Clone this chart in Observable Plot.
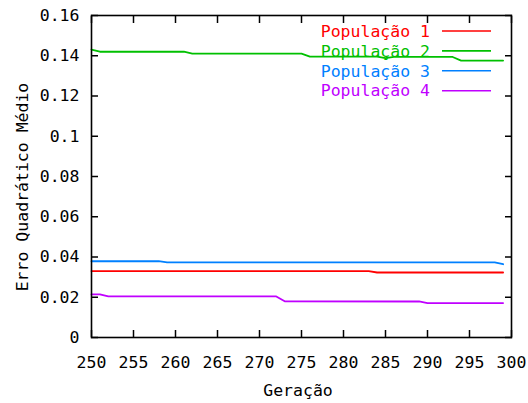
<!DOCTYPE html>
<html><head><meta charset="utf-8">
<script src="https://cdn.jsdelivr.net/npm/d3@7"></script>
<script src="https://cdn.jsdelivr.net/npm/@observablehq/plot@0.6"></script>
<style>body{margin:0;background:#fff}</style>
</head><body><div id="chart"></div>
<script>
const seriesNames = ["População 1", "População 2", "População 3", "População 4"];
const seriesColors = ["#ff0000", "#00c000", "#0080ff", "#c000ff"];

const pop1Gen = [250, 283, 284, 299];
const pop1Val = [0.0330, 0.0330, 0.0323, 0.0323];

const pop2Gen = [250, 251, 261, 262, 275, 276, 284, 285, 286, 293, 294, 299];
const pop2Val = [0.1431, 0.1420, 0.1420, 0.1411, 0.1411, 0.1396, 0.1396, 0.1388, 0.1394, 0.1394, 0.1376, 0.1376];

const pop3Gen = [250, 258, 259, 298, 299];
const pop3Val = [0.0379, 0.0379, 0.0373, 0.0373, 0.0364];

const pop4Gen = [250, 251, 252, 272, 273, 289, 290, 299];
const pop4Val = [0.0214, 0.0214, 0.0204, 0.0204, 0.0180, 0.0179, 0.0171, 0.0171];

const xTicks = [250, 255, 260, 265, 270, 275, 280, 285, 290, 295, 300];
const yTicks = [0, 0.02, 0.04, 0.06, 0.08, 0.1, 0.12, 0.14, 0.16];
const xTitle = "Geração";
const yTitle = "Erro Quadrático Médio";

const gens = [pop1Gen, pop2Gen, pop3Gen, pop4Gen];
const vals = [pop1Val, pop2Val, pop3Val, pop4Val];
const rows = [];
gens.forEach((g, s) => g.forEach((x, i) => rows.push({series: seriesNames[s], gen: x, val: vals[s][i]})));

const FONT = "DejaVu Sans Mono";
const FS = 16.5;

function decorations(index, scales, values, dimensions) {
  const g = d3.create("svg:g").attr("font-family", FONT).attr("font-size", FS);
  const right = dimensions.width - dimensions.marginRight;
  const top = dimensions.marginTop;
  seriesNames.forEach((name, i) => {
    const y = top + 16 + 19.9 * i;
    g.append("text").attr("x", right - 81).attr("y", y).attr("dy", "0.35em")
      .attr("text-anchor", "end").attr("fill", seriesColors[i]).text(name);
    g.append("line").attr("x1", right - 69).attr("x2", right - 20)
      .attr("y1", y).attr("y2", y).attr("stroke", seriesColors[i]).attr("stroke-width", 1.6);
  });
  g.append("text").attr("x", 298).attr("y", 396).attr("text-anchor", "middle").attr("fill", "#000").text(xTitle);
  g.append("text").attr("transform", "translate(28,187) rotate(-90)").attr("text-anchor", "middle").attr("fill", "#000").text(yTitle);
  return g.node();
}

const fmtY = d => String(+d.toFixed(2));

const chart = Plot.plot({
  width: 528,
  height: 403,
  marginLeft: 91,
  marginRight: 17,
  marginTop: 15,
  marginBottom: 66,
  style: {fontFamily: FONT, fontSize: FS + "px", background: "#fff", color: "#000"},
  x: {domain: [250, 300]},
  y: {domain: [0, 0.16]},
  color: {domain: seriesNames, range: seriesColors},
  marks: [
    Plot.axisX({anchor: "bottom", ticks: xTicks, tickSize: 0, tickPadding: 19, label: null}),
    Plot.axisY({anchor: "left", ticks: yTicks, tickSize: 0, tickPadding: 12, tickFormat: fmtY, label: null}),
    Plot.axisX({anchor: "bottom", ticks: xTicks, tickSize: -7, tickFormat: () => "", label: null, strokeWidth: 1.5}),
    Plot.axisX({anchor: "top", ticks: xTicks, tickSize: -7, tickFormat: () => "", label: null, strokeWidth: 1.5}),
    Plot.axisY({anchor: "left", ticks: yTicks, tickSize: -7, tickFormat: () => "", label: null, strokeWidth: 1.5}),
    Plot.axisY({anchor: "right", ticks: yTicks, tickSize: -7, tickFormat: () => "", label: null, strokeWidth: 1.5}),
    Plot.line(rows, {x: "gen", y: "val", z: "series", stroke: "series", strokeWidth: 1.8}),
    Plot.frame({stroke: "#000", strokeWidth: 1.6}),
    decorations
  ]
});
document.getElementById("chart").appendChild(chart);
</script>
</body></html>
